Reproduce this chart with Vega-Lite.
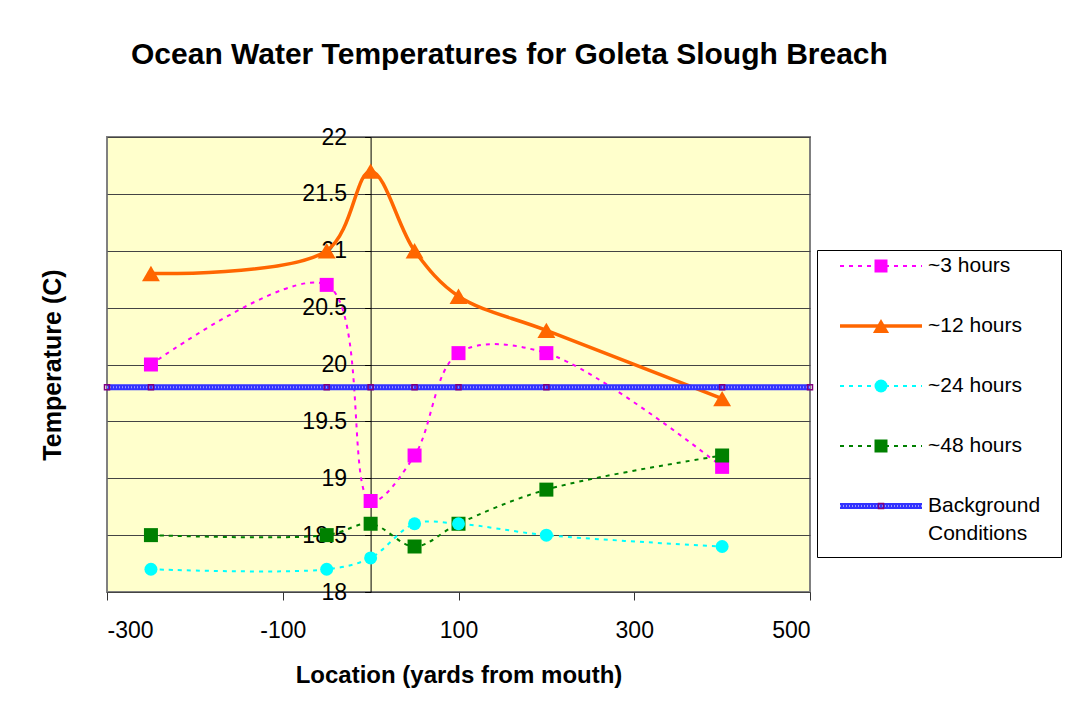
{
  "$schema": "https://vega.github.io/schema/vega-lite/v6.json",
  "background": "white",
  "padding": {"left": 39, "top": 40, "right": 6, "bottom": 5},
  "config": {"font": "Liberation Sans"},
  "title": {
    "text": "Ocean Water Temperatures for Goleta Slough Breach",
    "font": "Liberation Sans",
    "fontSize": 30,
    "fontWeight": "bold",
    "color": "black",
    "anchor": "start",
    "frame": "group",
    "dx": 24,
    "offset": 55
  },
  "bounds": "flush",
  "spacing": 7,
  "datasets": {
    "temps": [
      {"series": "~3 hours", "x": -250, "t": 20.0},
      {"series": "~3 hours", "x": -50, "t": 20.7},
      {"series": "~3 hours", "x": 0, "t": 18.8},
      {"series": "~3 hours", "x": 50, "t": 19.2},
      {"series": "~3 hours", "x": 100, "t": 20.1},
      {"series": "~3 hours", "x": 200, "t": 20.1},
      {"series": "~3 hours", "x": 400, "t": 19.1},
      {"series": "~12 hours", "x": -250, "t": 20.8},
      {"series": "~12 hours", "x": -50, "t": 21.0},
      {"series": "~12 hours", "x": 0, "t": 21.7},
      {"series": "~12 hours", "x": 50, "t": 21.0},
      {"series": "~12 hours", "x": 100, "t": 20.6},
      {"series": "~12 hours", "x": 200, "t": 20.3},
      {"series": "~12 hours", "x": 400, "t": 19.7},
      {"series": "~24 hours", "x": -250, "t": 18.2},
      {"series": "~24 hours", "x": -50, "t": 18.2},
      {"series": "~24 hours", "x": 0, "t": 18.3},
      {"series": "~24 hours", "x": 50, "t": 18.6},
      {"series": "~24 hours", "x": 100, "t": 18.6},
      {"series": "~24 hours", "x": 200, "t": 18.5},
      {"series": "~24 hours", "x": 400, "t": 18.4},
      {"series": "~48 hours", "x": -250, "t": 18.5},
      {"series": "~48 hours", "x": -50, "t": 18.5},
      {"series": "~48 hours", "x": 0, "t": 18.6},
      {"series": "~48 hours", "x": 50, "t": 18.4},
      {"series": "~48 hours", "x": 100, "t": 18.6},
      {"series": "~48 hours", "x": 200, "t": 18.9},
      {"series": "~48 hours", "x": 400, "t": 19.2},
      {"series": "Background Conditions", "x": -300, "t": 19.8},
      {"series": "Background Conditions", "x": -250, "t": 19.8},
      {"series": "Background Conditions", "x": -50, "t": 19.8},
      {"series": "Background Conditions", "x": 0, "t": 19.8},
      {"series": "Background Conditions", "x": 50, "t": 19.8},
      {"series": "Background Conditions", "x": 100, "t": 19.8},
      {"series": "Background Conditions", "x": 200, "t": 19.8},
      {"series": "Background Conditions", "x": 400, "t": 19.8},
      {"series": "Background Conditions", "x": 500, "t": 19.8}
    ],
    "legend": [
      {"series": "~3 hours", "label": "~3 hours"},
      {"series": "~12 hours", "label": "~12 hours"},
      {"series": "~24 hours", "label": "~24 hours"},
      {"series": "~48 hours", "label": "~48 hours"},
      {"series": "Background Conditions", "label": "Background\nConditions"}
    ]
  },
  "hconcat": [
    {
      "width": 703,
      "height": 455,
      "view": {"fill": "#FFFFCC", "stroke": "#808080", "strokeWidth": 2},
      "data": {"name": "temps"},
      "encoding": {
        "x": {
          "field": "x", "type": "quantitative",
          "scale": {"domain": [-300, 500], "nice": false, "zero": false},
          "axis": {
            "values": [-300, -100, 100, 300, 500],
            "labelExpr": "'' + datum.value",
            "grid": false,
            "domain": false,
            "tickSize": 8, "tickColor": "#333333", "tickWidth": 1,
            "labelFont": "Liberation Sans", "labelFontSize": 23, "labelColor": "black",
            "labelPadding": 19,
            "title": "Location (yards from mouth)",
            "titleFont": "Liberation Sans", "titleFontSize": 24, "titleFontWeight": "bold", "titleColor": "black",
            "titlePadding": 21
          }
        },
        "y": {
          "field": "t", "type": "quantitative",
          "scale": {"domain": [18, 22], "nice": false, "zero": false},
          "axis": {
            "values": [18, 18.5, 19, 19.5, 20, 20.5, 21, 21.5, 22],
            "labelExpr": "'' + datum.value",
            "offset": -263.6,
            "grid": true, "gridColor": "#444444", "gridWidth": 1,
            "domainColor": "black", "domainWidth": 1,
            "tickSize": 6, "tickColor": "black",
            "labelFont": "Liberation Sans", "labelFontSize": 23, "labelColor": "black",
            "labelPadding": 18,
            "title": "Temperature (C)",
            "titleFont": "Liberation Sans", "titleFontSize": 25, "titleFontWeight": "bold", "titleColor": "black",
            "titleX": -305
          }
        },
        "color": {
          "field": "series", "type": "nominal", "legend": null,
          "scale": {
            "domain": ["~3 hours", "~12 hours", "~24 hours", "~48 hours", "Background Conditions"],
            "range": ["#FF00FF", "#FF6600", "#00FFFF", "#008000", "#3333FF"]
          }
        }
      },
      "layer": [
        {
          "transform": [{"filter": "datum.series === '~3 hours'"}],
          "mark": {"type": "line", "interpolate": "catmull-rom", "strokeWidth": 2, "strokeDash": [4, 5]}
        },
        {
          "transform": [{"filter": "datum.series === '~12 hours'"}],
          "mark": {"type": "line", "interpolate": "catmull-rom", "strokeWidth": 3.5}
        },
        {
          "transform": [{"filter": "datum.series === '~24 hours'"}],
          "mark": {"type": "line", "interpolate": "catmull-rom", "strokeWidth": 2, "strokeDash": [4, 5]}
        },
        {
          "transform": [{"filter": "datum.series === '~48 hours'"}],
          "mark": {"type": "line", "interpolate": "catmull-rom", "strokeWidth": 2, "strokeDash": [4, 5]}
        },
        {
          "transform": [{"filter": "datum.series === '~3 hours' || datum.series === '~48 hours'"}],
          "mark": {"type": "point", "shape": "square", "filled": true, "opacity": 1, "size": 196}
        },
        {
          "transform": [{"filter": "datum.series === '~12 hours'"}],
          "mark": {"type": "point", "shape": "triangle-up", "filled": true, "opacity": 1, "size": 320}
        },
        {
          "transform": [{"filter": "datum.series === '~24 hours'"}],
          "mark": {"type": "point", "shape": "circle", "filled": true, "opacity": 1, "size": 169}
        },
        {
          "transform": [{"filter": "datum.series === 'Background Conditions'"}],
          "mark": {"type": "line", "strokeWidth": 6}
        },
        {
          "transform": [{"filter": "datum.series === 'Background Conditions'"}],
          "mark": {"type": "line", "strokeWidth": 2, "strokeDash": [1, 2]},
          "encoding": {"color": {"value": "#9999FF"}}
        },
        {
          "transform": [{"filter": "datum.series === 'Background Conditions'"}],
          "mark": {"type": "point", "shape": "square", "filled": false, "opacity": 1, "size": 25, "strokeWidth": 1.5},
          "encoding": {"color": {"value": "#800080"}}
        }
      ]
    },
    {
      "bounds": "flush",
      "spacing": 0,
      "vconcat": [
        {
          "width": 244,
          "height": 113,
          "view": {"stroke": null},
          "data": {"values": [{}]},
          "mark": {"type": "text"},
          "encoding": {"text": {"value": ""}}
        },
        {
          "width": 244,
          "height": 307,
          "view": {"stroke": "black", "strokeWidth": 1, "fill": "white"},
          "data": {"name": "legend"},
          "encoding": {
            "y": {
              "field": "series", "type": "nominal", "axis": null,
              "scale": {"type": "point", "padding": 0, "range": [16, 256],
                "domain": ["~3 hours", "~12 hours", "~24 hours", "~48 hours", "Background Conditions"]}
            },
            "color": {
              "field": "series", "type": "nominal", "legend": null,
              "scale": {
                "domain": ["~3 hours", "~12 hours", "~24 hours", "~48 hours", "Background Conditions"],
                "range": ["#FF00FF", "#FF6600", "#00FFFF", "#008000", "#3333FF"]
              }
            }
          },
          "layer": [
            {
              "transform": [{"filter": "datum.series === '~3 hours' || datum.series === '~24 hours' || datum.series === '~48 hours'"}],
              "mark": {"type": "rule", "strokeWidth": 2, "strokeDash": [4, 5]},
              "encoding": {
                "x": {"datum": 0, "type": "quantitative", "scale": {"domain": [0, 1], "range": [23, 105]}, "axis": null},
                "x2": {"datum": 1}
              }
            },
            {
              "transform": [{"filter": "datum.series === '~12 hours'"}],
              "mark": {"type": "rule", "strokeWidth": 3.5},
              "encoding": {
                "x": {"datum": 0, "type": "quantitative"},
                "x2": {"datum": 1}
              }
            },
            {
              "transform": [{"filter": "datum.series === 'Background Conditions'"}],
              "mark": {"type": "rule", "strokeWidth": 6},
              "encoding": {
                "x": {"datum": 0, "type": "quantitative"},
                "x2": {"datum": 1}
              }
            },
            {
              "transform": [{"filter": "datum.series === 'Background Conditions'"}],
              "mark": {"type": "rule", "strokeWidth": 2, "strokeDash": [1, 2]},
              "encoding": {
                "x": {"datum": 0, "type": "quantitative"},
                "x2": {"datum": 1},
                "color": {"value": "#9999FF"}
              }
            },
            {
              "transform": [{"filter": "datum.series === '~3 hours' || datum.series === '~48 hours'"}],
              "mark": {"type": "point", "shape": "square", "filled": true, "opacity": 1, "size": 169},
              "encoding": {"x": {"datum": 0.5, "type": "quantitative"}}
            },
            {
              "transform": [{"filter": "datum.series === '~12 hours'"}],
              "mark": {"type": "point", "shape": "triangle-up", "filled": true, "opacity": 1, "size": 260},
              "encoding": {"x": {"datum": 0.5, "type": "quantitative"}}
            },
            {
              "transform": [{"filter": "datum.series === '~24 hours'"}],
              "mark": {"type": "point", "shape": "circle", "filled": true, "opacity": 1, "size": 169},
              "encoding": {"x": {"datum": 0.5, "type": "quantitative"}}
            },
            {
              "transform": [{"filter": "datum.series === 'Background Conditions'"}],
              "mark": {"type": "point", "shape": "square", "filled": false, "opacity": 1, "size": 25, "strokeWidth": 1.5},
              "encoding": {"x": {"datum": 0.5, "type": "quantitative"}, "color": {"value": "#800080"}}
            },
            {
              "mark": {"type": "text", "align": "left", "baseline": "top", "dx": 6, "dy": -11, "fontSize": 21, "font": "Liberation Sans", "lineBreak": "\n", "lineHeight": 28},
              "encoding": {
                "x": {"datum": 1, "type": "quantitative"},
                "text": {"field": "label"},
                "color": {"value": "black"}
              }
            }
          ]
        }
      ]
    }
  ]
}
